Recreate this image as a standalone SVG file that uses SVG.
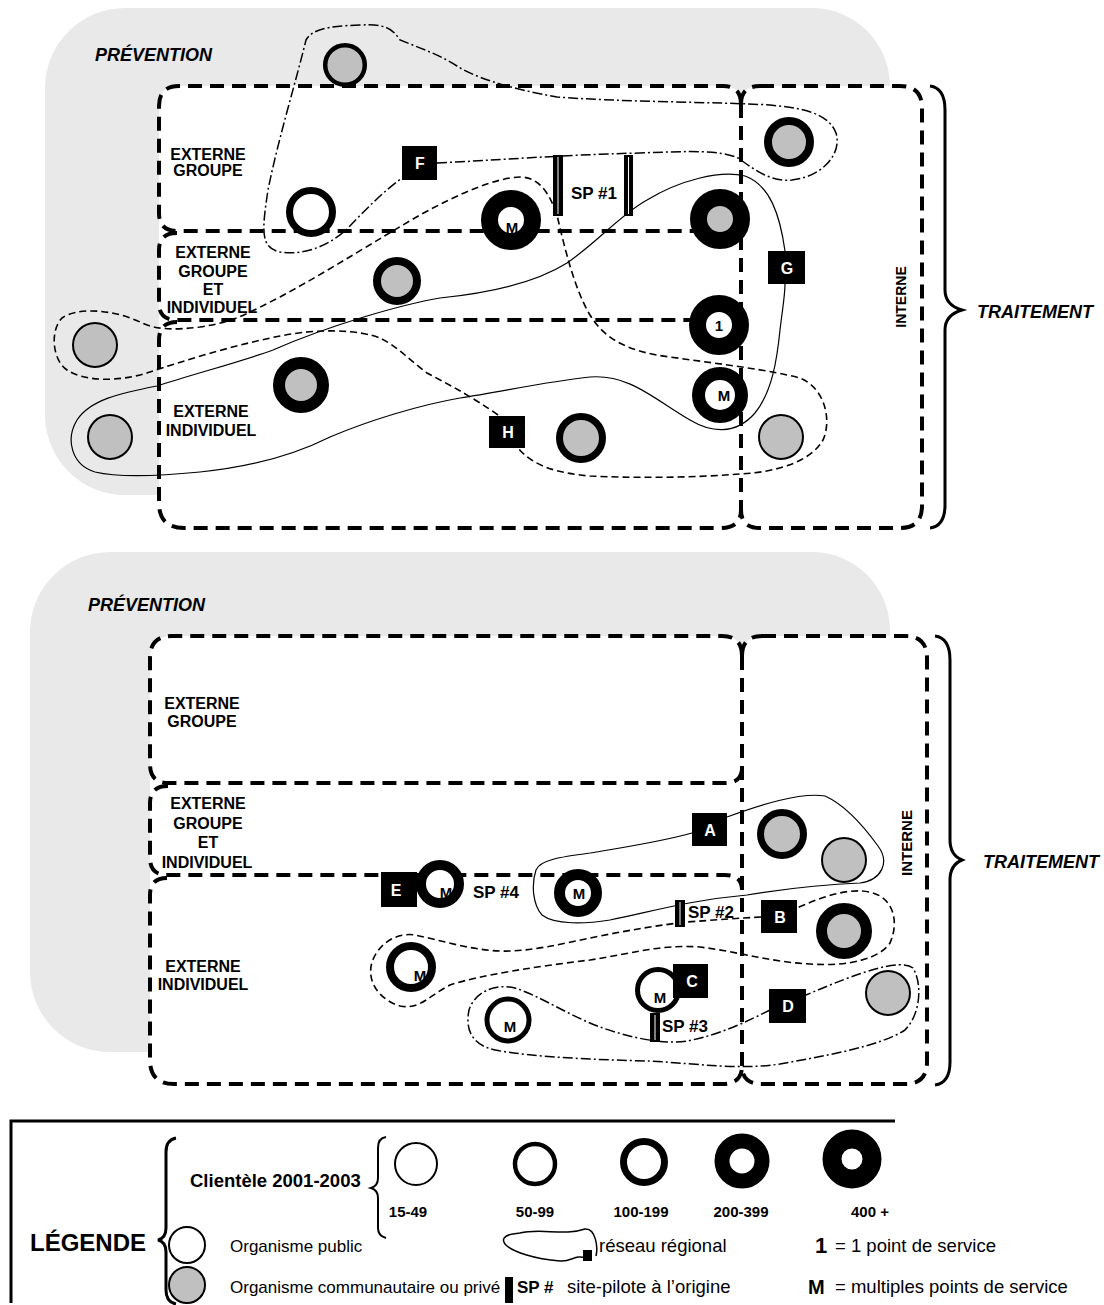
<svg xmlns="http://www.w3.org/2000/svg" width="1104" height="1305" viewBox="0 0 1104 1305">
<style>
text{font-family:"Liberation Sans",Arial,sans-serif;fill:#000}
.lab{font-weight:bold;font-size:16px;text-anchor:middle}
.sec{font-weight:bold;font-style:italic;font-size:18px}
.int{font-weight:bold;font-size:14px;text-anchor:middle}
.sq{fill:#000}
.sql{fill:#fff;font-weight:bold;font-size:16px;text-anchor:middle}
.ring{stroke:#000}
.pub{fill:#fff}
.com{fill:#c0c0c0}
.cl{font-weight:bold;font-size:15px;text-anchor:middle}
.sp{font-weight:bold;font-size:17px}
.box{fill:none;stroke:#000;stroke-width:4;stroke-dasharray:14 8}
.wf{fill:#fff;stroke:none}
.bg{fill:#e9e9e9}
.nd{fill:none;stroke:#000;stroke-width:1.6;stroke-dasharray:7 4}
.ndd{fill:none;stroke:#000;stroke-width:1.5;stroke-dasharray:10 3 2 3}
.ns{fill:none;stroke:#000;stroke-width:1.2}
.brace{fill:none;stroke:#000;stroke-width:3}
.lg{font-size:17px}
.lgr{font-size:18.5px}
.bar{fill:#000}
.barw{stroke:#fff;stroke-width:1}
</style>

<!-- backgrounds -->
<g id="background">
  <path class="bg" d="M125,8 H812 A78 78 0 0 1 890,86 V495 H125 A80 80 0 0 1 45,415 V88 A80 80 0 0 1 125,8 Z"/>
  <path class="bg" d="M110,552 H812 A78 78 0 0 1 890,630 V1052 H110 A80 80 0 0 1 30,972 V632 A80 80 0 0 1 110,552 Z"/>
  <path class="wf" d="M179,86 H723 Q741,86 741,104 V510 Q741,528 720,528 H184 Q159,528 159,503 V106 Q159,86 179,86 Z"/>
  <path class="wf" d="M760,86 H900 Q922,86 922,108 V506 Q922,528 900,528 H760 Q741,528 741,510 V104 Q741,86 760,86 Z"/>
  <path class="wf" d="M172,636 H722 Q742,636 742,656 V1066 Q742,1084 722,1084 H174 Q150,1084 150,1060 V658 Q150,636 172,636 Z"/>
  <path class="wf" d="M762,636 H905 Q927,636 927,658 V1062 Q927,1084 905,1084 H762 Q742,1084 742,1066 V656 Q742,636 762,636 Z"/>
</g>

<!-- category boxes -->
<g id="boxes">
  <path class="box" d="M741,104 Q741,86 723,86 H179 Q159,86 159,106 V213 Q159,231 177,231 H741"/>
  <path class="box" d="M177,233 Q159,233 159,250 V303 Q159,320 176,320 H741"/>
  <path class="box" d="M177,322 Q159,322 159,340 V503 Q159,528 184,528 H720 Q741,528 741,510"/>
  <path class="box" d="M741,104 V510"/>
  <path class="box" d="M760,86 H900 Q922,86 922,108 V506 Q922,528 900,528 H760 Q741,528 741,510 M741,104 Q741,86 760,86"/>
  <path class="brace" d="M930,86 Q945,88 945,110 V290 Q945,305 962,310 Q945,315 945,330 V505 Q945,526 930,528"/>

  <path class="box" d="M742,656 Q742,636 722,636 H172 Q150,636 150,658 V764 Q150,783 168,783 H725 Q742,783 742,768"/>
  <path class="box" d="M168,786 Q150,786 150,803 V858 Q150,875 167,875 H725 Q742,875 742,890"/>
  <path class="box" d="M167,878 Q150,878 150,895 V1060 Q150,1084 174,1084 H722 Q742,1084 742,1066"/>
  <path class="box" d="M742,656 V1066"/>
  <path class="box" d="M762,636 H905 Q927,636 927,658 V1062 Q927,1084 905,1084 H762 Q742,1084 742,1066 M742,656 Q742,636 762,636"/>
  <path class="brace" d="M935,636 Q950,638 950,660 V840 Q950,855 962,860 Q950,865 950,880 V1062 Q950,1083 935,1085"/>
</g>

<!-- labels -->
<g id="labels">
  <text class="sec" x="95" y="61">PRÉVENTION</text>
  <text class="lab" x="208" y="160">EXTERNE</text>
  <text class="lab" x="208" y="176">GROUPE</text>
  <text class="lab" x="213" y="258">EXTERNE</text>
  <text class="lab" x="213" y="277">GROUPE</text>
  <text class="lab" x="213" y="295">ET</text>
  <text class="lab" x="212" y="313">INDIVIDUEL</text>
  <text class="lab" x="211" y="417">EXTERNE</text>
  <text class="lab" x="211" y="436">INDIVIDUEL</text>
  <text class="int" transform="translate(906,297) rotate(-90)">INTERNE</text>
  <text class="sec" x="977" y="318">TRAITEMENT</text>

  <text class="sec" x="88" y="611">PRÉVENTION</text>
  <text class="lab" x="202" y="709">EXTERNE</text>
  <text class="lab" x="202" y="727">GROUPE</text>
  <text class="lab" x="208" y="809">EXTERNE</text>
  <text class="lab" x="208" y="829">GROUPE</text>
  <text class="lab" x="208" y="848">ET</text>
  <text class="lab" x="207" y="868">INDIVIDUEL</text>
  <text class="lab" x="203" y="972">EXTERNE</text>
  <text class="lab" x="203" y="990">INDIVIDUEL</text>
  <text class="int" transform="translate(912,843) rotate(-90)" style="font-size:15px">INTERNE</text>
  <text class="sec" x="983" y="868">TRAITEMENT</text>
</g>

<!-- network connectors -->
<g id="connectors">
  <path class="ndd" d="M437,163 C500,160 560,155 640,153 C690,151 720,150 738,158 C755,170 770,182 792,180 C825,176 842,152 836,133 C828,112 800,108 770,105 C720,102 620,102 557,97 C505,88 470,75 457,66 C440,55 420,48 400,40 C392,28 385,24 360,25 C325,26 312,30 306,40 C295,85 278,140 268,190 C262,230 260,248 280,252 C305,256 330,245 347,229 C365,210 385,190 402,178"/>
  <path class="nd" d="M498,415 C470,395 440,380 427,373 C410,360 395,345 380,338 C360,330 320,328 280,336 C230,346 180,362 150,372 C120,382 85,382 67,370 C52,360 50,330 62,318 C75,308 110,308 140,322 C155,330 175,330 200,327 C235,322 250,312 280,297 C330,270 380,238 420,215 C460,193 495,178 520,177 C540,177 550,195 557,215 C565,250 575,290 590,315 C605,340 630,352 670,357 C720,364 770,370 800,378 C825,388 832,420 823,440 C812,460 780,472 740,474 C690,478 630,478 590,476 C555,473 532,465 518,448"/>
  <path class="ns" d="M785,251 C780,215 770,185 745,176 C720,170 680,180 647,200 C620,215 600,240 567,263 C540,280 500,292 440,298 C400,305 330,325 273,350 C240,362 190,375 157,386 C120,393 90,400 77,420 C65,440 72,465 95,472 C120,478 160,476 200,472 C260,466 300,452 330,437 C370,420 420,405 460,398 C500,392 550,381 590,377 C630,374 655,400 690,420 C710,432 735,436 755,413 C772,392 777,360 780,330 C783,305 785,295 785,284"/>

  <path class="ns" d="M692,833 C660,842 620,848 590,853 C560,857 540,860 536,870 C531,885 533,905 542,915 C555,925 585,924 610,920 C650,912 690,900 747,895 C790,888 830,884 860,883 C882,880 890,862 878,846 C865,828 845,805 825,796 C800,792 760,805 727,817"/>
  <path class="nd" d="M761,917 C740,918 715,920 687,922 C660,925 630,930 600,936 C560,944 530,952 500,951 C470,950 440,940 415,935 C395,932 378,945 372,962 C366,982 380,1000 400,1006 C420,1010 430,995 450,985 C480,975 540,966 590,960 C630,954 660,944 700,947 C740,952 770,962 810,964 C850,967 880,958 890,943 C898,925 895,905 880,896 C860,885 830,893 797,908"/>
  <path class="ndd" d="M770,1010 C750,1020 720,1035 687,1041 C660,1045 625,1036 600,1027 C570,1016 540,996 515,988 C495,983 475,992 469,1010 C465,1030 472,1045 495,1050 C530,1057 600,1060 650,1061 C700,1064 740,1070 780,1064 C830,1055 880,1046 905,1030 C920,1015 923,985 913,968 C900,958 860,972 806,995"/>
</g>

<!-- nodes: top panel -->
<g id="n-top-grey"><circle class="ring com" cx="345" cy="65" r="19.8" stroke-width="4.5"/></g>
<g id="n-public-eg"><circle class="ring pub" cx="311" cy="212" r="21.5" stroke-width="7"/></g>
<g id="n-m-eg"><circle class="ring pub" cx="511" cy="220" r="21.5" stroke-width="17"/><text class="cl" x="512" y="233">M</text></g>
<g id="n-grey-eg"><circle class="ring com" cx="720" cy="219" r="21.5" stroke-width="17"/></g>
<g id="n-grey-int1"><circle class="ring com" cx="789" cy="142" r="21" stroke-width="8"/></g>
<g id="n-grey-egi"><circle class="ring com" cx="397" cy="281" r="20" stroke-width="8"/></g>
<g id="n-grey-out1"><circle class="ring com" cx="95" cy="345" r="22" stroke-width="2"/></g>
<g id="n-grey-out2"><circle class="ring com" cx="110" cy="437" r="22" stroke-width="2"/></g>
<g id="n-grey-ei"><circle class="ring com" cx="301" cy="385" r="22" stroke-width="12"/></g>
<g id="n-one"><circle class="ring pub" cx="719" cy="325" r="21.5" stroke-width="17"/><text class="cl" x="719" y="331">1</text></g>
<g id="n-m-ei"><circle class="ring pub" cx="720" cy="395" r="21.5" stroke-width="13"/><text class="cl" x="724" y="401">M</text></g>
<g id="n-grey-h"><circle class="ring com" cx="581" cy="438" r="21.5" stroke-width="7"/></g>
<g id="n-grey-int2"><circle class="ring com" cx="781" cy="437" r="22" stroke-width="2"/></g>
<g id="sq-F"><rect class="sq" x="402" y="146" width="35" height="34"/><text class="sql" x="420" y="169">F</text></g>
<g id="sq-G"><rect class="sq" x="768" y="251" width="37" height="33"/><text class="sql" x="787" y="274">G</text></g>
<g id="sq-H"><rect class="sq" x="489" y="416" width="36" height="32"/><text class="sql" x="508" y="438">H</text></g>
<g id="sp1">
  <rect class="bar" x="553" y="155" width="10" height="61"/><line class="barw" x1="558" y1="157" x2="558" y2="214"/>
  <rect class="bar" x="624" y="155" width="9" height="61"/><line class="barw" x1="628.5" y1="157" x2="628.5" y2="214"/>
  <text class="sp" x="571" y="199">SP #1</text>
</g>

<!-- nodes: bottom panel -->
<g id="sq-E"><rect class="sq" x="381" y="872" width="36" height="35"/><text class="sql" x="396" y="896">E</text></g>
<g id="n-m-sp4"><circle class="ring pub" cx="440" cy="884" r="19" stroke-width="10"/><text class="cl" x="446" y="898">M</text></g>
<g id="sp4"><text class="sp" x="473" y="898">SP #4</text></g>
<g id="n-m-a"><circle class="ring pub" cx="578" cy="893" r="18.5" stroke-width="11"/><text class="cl" x="579" y="899">M</text></g>
<g id="sq-A"><rect class="sq" x="692" y="813" width="35" height="33"/><text class="sql" x="710" y="836">A</text></g>
<g id="n-grey-a1"><circle class="ring com" cx="782" cy="834" r="21.5" stroke-width="7"/></g>
<g id="n-grey-a2"><circle class="ring com" cx="844" cy="860" r="22" stroke-width="2"/></g>
<g id="sp2">
  <rect class="bar" x="675" y="900" width="10" height="27"/><line class="barw" x1="680" y1="902" x2="680" y2="925"/>
  <text class="sp" x="688" y="918">SP #2</text>
</g>
<g id="sq-B"><rect class="sq" x="761" y="900" width="36" height="33"/><text class="sql" x="780" y="923">B</text></g>
<g id="n-grey-b"><circle class="ring com" cx="844" cy="931" r="22.5" stroke-width="11"/></g>
<g id="n-m-b"><circle class="ring pub" cx="411" cy="967" r="21" stroke-width="8"/><text class="cl" x="420" y="981">M</text></g>
<g id="n-m-c"><circle class="ring pub" cx="658" cy="990" r="20.5" stroke-width="5"/><text class="cl" x="660" y="1003">M</text></g>
<g id="sq-C"><rect class="sq" x="673" y="964" width="35" height="34"/><text class="sql" x="692" y="987">C</text></g>
<g id="sp3">
  <rect class="bar" x="650" y="1013" width="10" height="29"/><line class="barw" x1="655" y1="1015" x2="655" y2="1040"/>
  <text class="sp" x="662" y="1032">SP #3</text>
</g>
<g id="sq-D"><rect class="sq" x="769" y="989" width="37" height="34"/><text class="sql" x="788" y="1012">D</text></g>
<g id="n-grey-d"><circle class="ring com" cx="888" cy="993" r="22" stroke-width="2"/></g>
<g id="n-m-d"><circle class="ring pub" cx="508" cy="1020" r="21" stroke-width="5"/><text class="cl" x="510" y="1032">M</text></g>

<!-- legend -->
<g id="legend">
  <path d="M11,1303 V1121 H895" fill="none" stroke="#000" stroke-width="3"/>
  <text x="30" y="1251" style="font-weight:bold;font-size:24px">LÉGENDE</text>
  <path class="brace" d="M176,1138 Q166,1140 166,1152 V1228 Q166,1238 158,1240 Q166,1242 166,1252 V1290 Q166,1302 176,1304"/>
  <text x="190" y="1187" style="font-weight:bold;font-size:18.5px">Clientèle 2001-2003</text>
  <path d="M386,1137 Q378,1138 378,1148 V1178 Q378,1186 371,1188 Q378,1190 378,1198 V1228 Q378,1236 386,1238" fill="none" stroke="#000" stroke-width="2"/>
  <circle cx="416" cy="1164" r="21" fill="#fff" stroke="#000" stroke-width="2"/>
  <circle cx="535" cy="1164" r="20" fill="#fff" stroke="#000" stroke-width="4.5"/>
  <circle cx="644" cy="1162" r="20.5" fill="#fff" stroke="#000" stroke-width="7"/>
  <circle cx="742" cy="1161" r="20" fill="#fff" stroke="#000" stroke-width="15"/>
  <circle cx="852" cy="1159" r="20" fill="#fff" stroke="#000" stroke-width="19"/>
  <text class="cl" x="408" y="1217">15-49</text>
  <text class="cl" x="535" y="1217">50-99</text>
  <text class="cl" x="641" y="1217">100-199</text>
  <text class="cl" x="741" y="1217">200-399</text>
  <text class="cl" x="870" y="1217">400 +</text>
  <circle cx="187" cy="1245" r="18" fill="#fff" stroke="#000" stroke-width="2"/>
  <text class="lg" x="230" y="1252">Organisme public</text>
  <circle cx="187" cy="1285" r="18" fill="#c0c0c0" stroke="#000" stroke-width="2"/>
  <text class="lg" x="230" y="1293">Organisme communautaire ou privé</text>
  <path d="M520,1233 C540,1228 565,1236 585,1229 C596,1228 598,1248 596,1256 M586,1258 C575,1254 572,1262 560,1261 C535,1259 512,1252 505,1244 C500,1237 508,1234 520,1233" fill="none" stroke="#000" stroke-width="1.5"/>
  <rect x="583" y="1250" width="9" height="11" fill="#000"/>
  <text class="lgr" x="599" y="1252">réseau régional</text>
  <text x="815" y="1253" style="font-weight:bold;font-size:22px">1</text>
  <text class="lgr" x="835" y="1252">= 1 point de service</text>
  <rect x="505" y="1277" width="8" height="26" fill="#000"/>
  <text x="517" y="1293" style="font-weight:bold;font-size:17px">SP #</text>
  <text class="lgr" x="567" y="1293">site-pilote à l’origine</text>
  <text x="808" y="1294" style="font-weight:bold;font-size:20px">M</text>
  <text class="lgr" x="835" y="1293">= multiples points de service</text>
</g>
</svg>
